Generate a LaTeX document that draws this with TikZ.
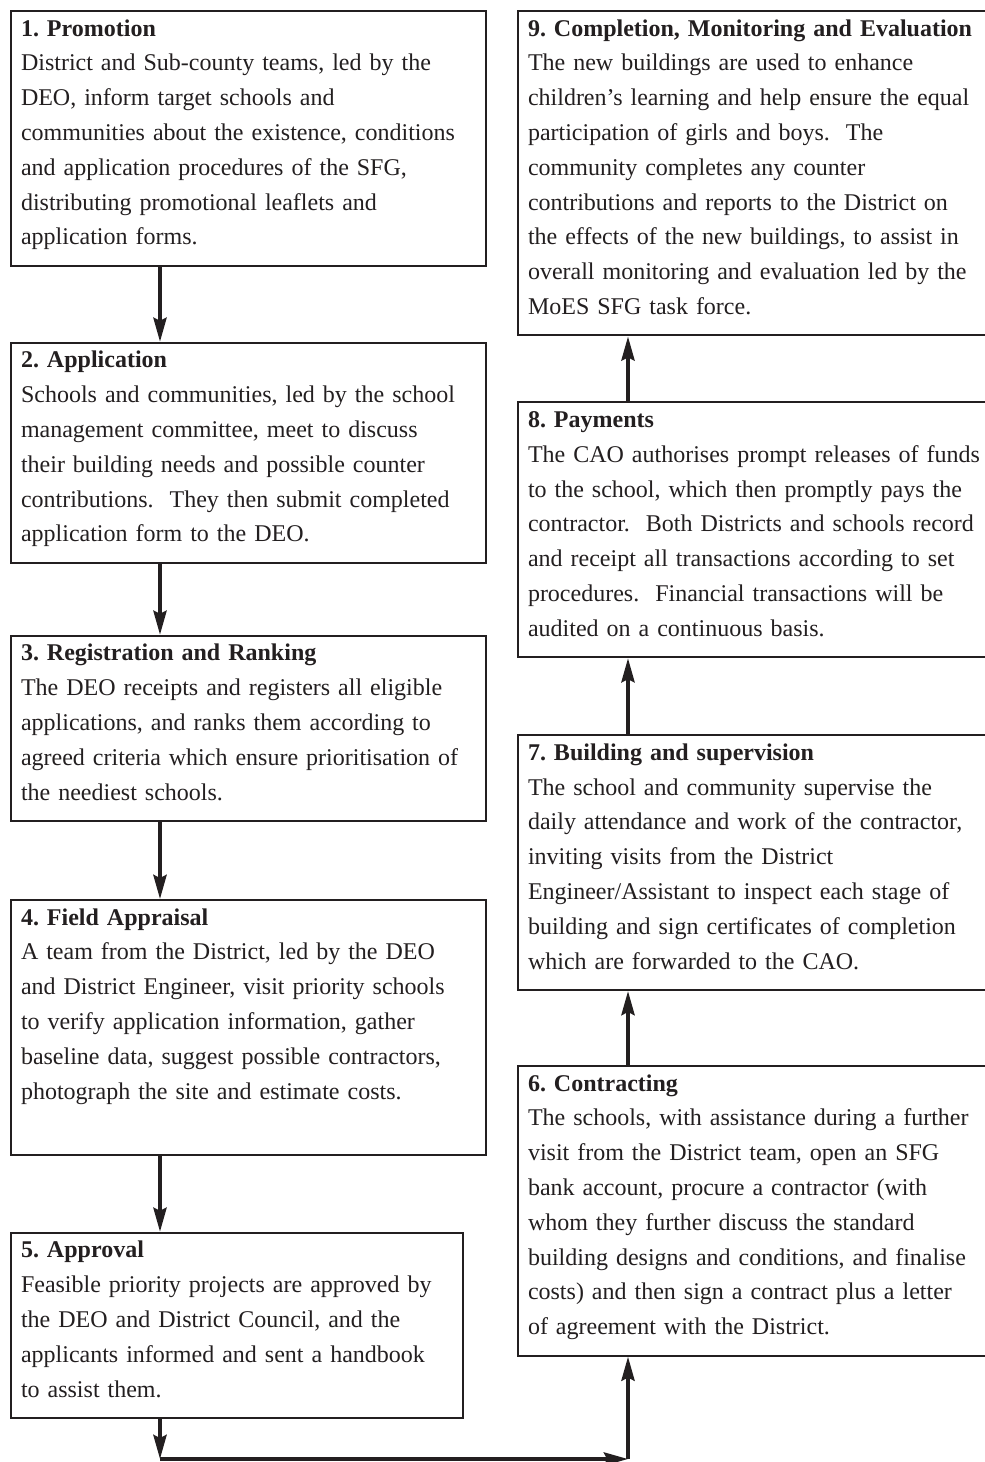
\documentclass[tikz,border=0pt]{standalone}
\usepackage{fontspec}
\setmainfont{Liberation Serif}
\usepackage{tikz}
\usetikzlibrary{arrows.meta, positioning}
\definecolor{inkBlack}{HTML}{231F20}
\frenchspacing
\newcommand{\stepbody}[2]{\rule{0pt}{10.5pt}\textbf{#1}\\#2\rule[-8.5pt]{0pt}{0pt}}
\tikzset{
  stepbox/.style={
    rectangle, draw=inkBlack, line width=1pt,
    text=inkBlack, align=left, anchor=north west,
    inner xsep=5pt, inner ysep=2pt,
    font=\fontsize{12}{17.4}\selectfont
  },
  leftbox/.style={stepbox, text width=227.5pt},
  shortbox/.style={stepbox, text width=216pt},
  rightbox/.style={stepbox, text width=232pt},
  flow/.style={-{Stealth[length=12pt, width=6.5pt, inset=1.5pt]}, inkBlack, line width=2pt},
}

\begin{document}
\begin{tikzpicture}[node distance=38pt]
    \fill[white] (0,0) rectangle (492.5pt,-731pt);
    \useasboundingbox (0,0) rectangle (492.5pt,-731pt);

    % left column, steps 1 to 5
    \node[leftbox] (promotion) at (5pt,-5pt) {\stepbody{1. Promotion}{District and Sub-county teams, led by the\\DEO, inform target schools and\\communities about the existence, conditions\\and application procedures of the SFG,\\distributing promotional leaflets and\\application forms.}};
    \node[leftbox, below=37.5pt of promotion.south west, anchor=north west] (application) {\stepbody{2. Application}{Schools and communities, led by the school\\management committee, meet to discuss\\their building needs and possible counter\\contributions.\ \ They then submit completed\\application form to the DEO.}};
    \node[leftbox, below=35.5pt of application.south west, anchor=north west] (ranking) {\stepbody{3. Registration and Ranking}{The DEO receipts and registers all eligible\\applications, and ranks them according to\\agreed criteria which ensure prioritisation of\\the neediest schools.}};
    \node[leftbox, below=38.5pt of ranking.south west, anchor=north west] (appraisal) {\stepbody{4. Field Appraisal}{A team from the District, led by the DEO\\and District Engineer, visit priority schools\\to verify application information, gather\\baseline data, suggest possible contractors,\\photograph the site and estimate costs.\\\mbox{}}};
    \node[shortbox, below=of appraisal.south west, anchor=north west] (approval) {\stepbody{5. Approval}{Feasible priority projects are approved by\\the DEO and District Council, and the\\applicants informed and sent a handbook\\to assist them.}};

    % right column, steps 9 down to 6
    \node[rightbox] (completion) at (258.5pt,-5pt) {\stepbody{9. Completion, Monitoring and Evaluation}{The new buildings are used to enhance\\children’s learning and help ensure the equal\\participation of girls and boys.\ \ The\\community completes any counter\\contributions and reports to the District on\\the effects of the new buildings, to assist in\\overall monitoring and evaluation led by the\\MoES SFG task force.}};
    \node[rightbox, below=32.5pt of completion.south west, anchor=north west] (payments) {\stepbody{8. Payments}{The CAO authorises prompt releases of funds\\to the school, which then promptly pays the\\contractor.\ \ Both Districts and schools record\\and receipt all transactions according to set\\procedures.\ \ Financial transactions will be\\audited on a continuous basis.}};
    \node[rightbox, below=of payments.south west, anchor=north west] (building) {\stepbody{7. Building and supervision}{The school and community supervise the\\daily attendance and work of the contractor,\\inviting visits from the District\\Engineer/Assistant to inspect each stage of\\building and sign certificates of completion\\which are forwarded to the CAO.}};
    \node[rightbox, below=37pt of building.south west, anchor=north west] (contracting) {\stepbody{6. Contracting}{The schools, with assistance during a further\\visit from the District team, open an SFG\\bank account, procure a contractor (with\\whom they further discuss the standard\\building designs and conditions, and finalise\\costs) and then sign a contract plus a letter\\of agreement with the District.}};

    \coordinate (leftLane) at (80pt,0);
    \coordinate (rightLane) at (314pt,0);
    \coordinate (turnLeft) at (80pt,-729.5pt);
    \coordinate (turnRight) at (314pt,-729.5pt);

    \draw[flow] (promotion.south -| leftLane) -- (application.north -| leftLane);
    \draw[flow] (application.south -| leftLane) -- (ranking.north -| leftLane);
    \draw[flow] (ranking.south -| leftLane) -- (appraisal.north -| leftLane);
    \draw[flow] (appraisal.south -| leftLane) -- (approval.north -| leftLane);
    \draw[flow] (approval.south -| leftLane) -- (turnLeft);
    \draw[flow] (turnLeft) -- (turnRight);
    \draw[flow] (turnRight) -- (contracting.south -| rightLane);
    \draw[flow] (contracting.north -| rightLane) -- (building.south -| rightLane);
    \draw[flow] (building.north -| rightLane) -- (payments.south -| rightLane);
    \draw[flow] (payments.north -| rightLane) -- (completion.south -| rightLane);
\end{tikzpicture}
\end{document}
